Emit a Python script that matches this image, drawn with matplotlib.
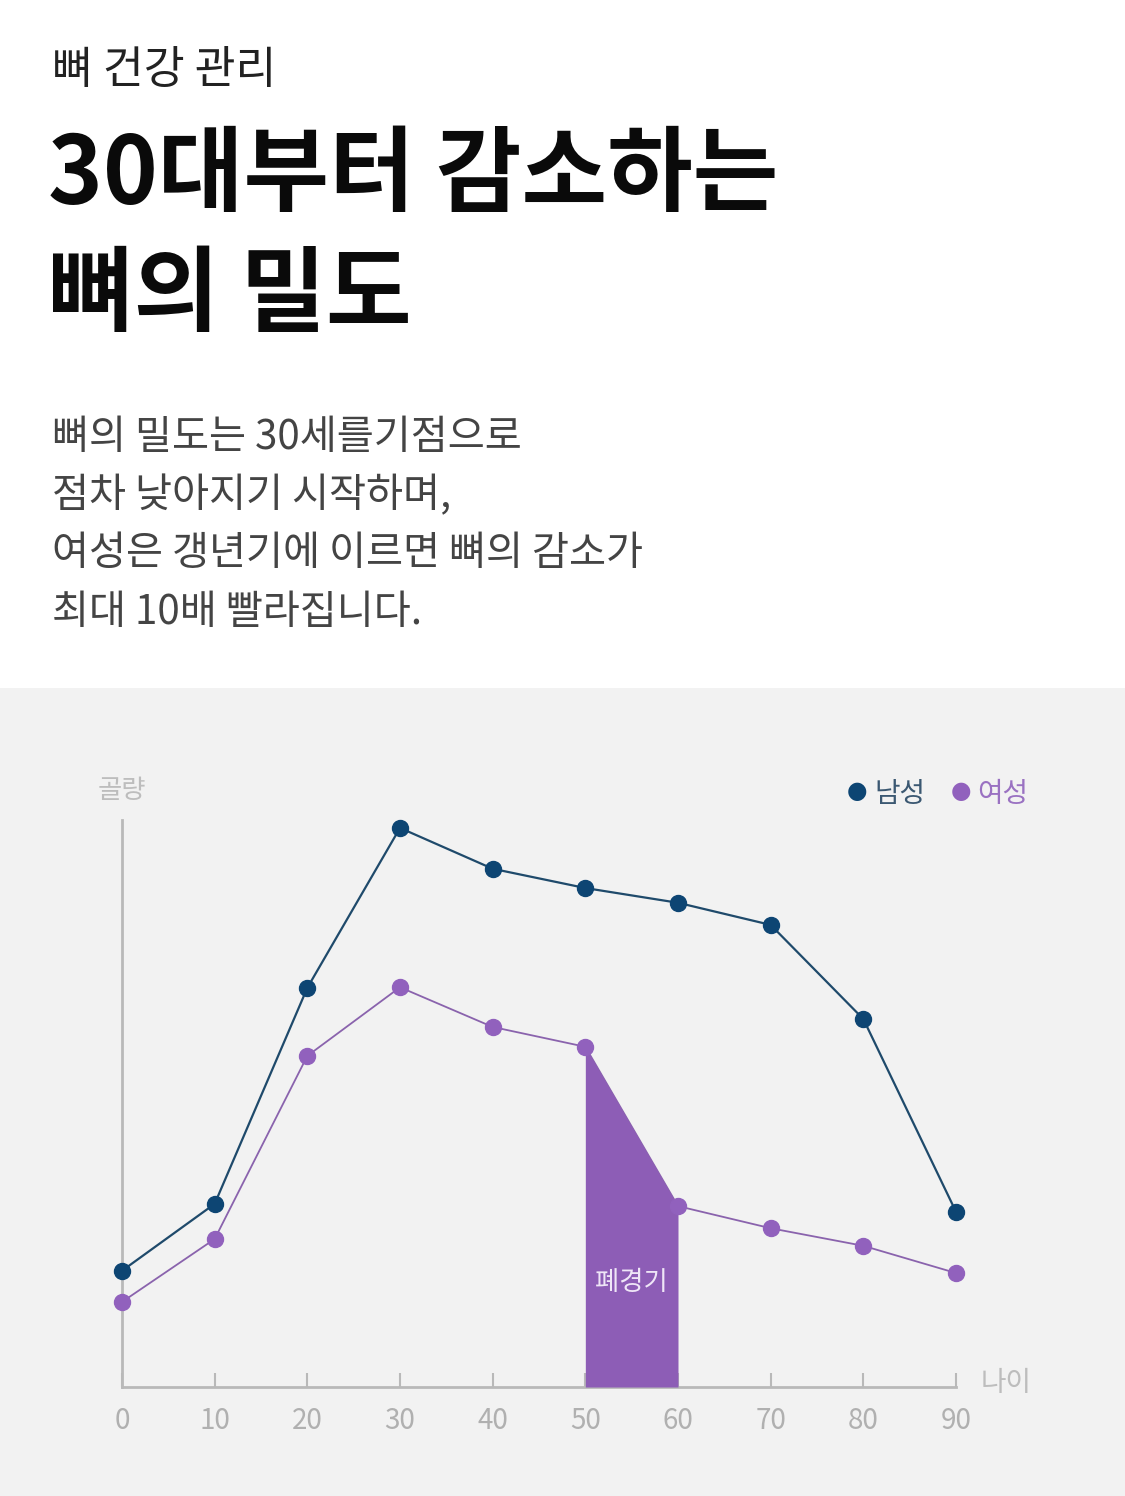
# bone density chart (Korean infographic)

import numpy as np
import matplotlib.pyplot as plt
from matplotlib.patches import Rectangle

plt.rcParams['font.family'] = ['Noto Sans CJK KR', 'DejaVu Sans']

# data
ages = [0, 10, 20, 30, 40, 50, 60, 70, 80, 90]
men = [20.5, 32.3, 70.4, 98.6, 91.4, 88.0, 85.4, 81.5, 64.9, 30.9]
women = [15.0, 26.1, 58.4, 70.5, 63.5, 60.0, 31.9, 28.0, 24.9, 20.1]
menopause = (50, 60)

kicker = "뼈 건강 관리"
title_lines = ["30대부터 감소하는", "뼈의 밀도"]
body_lines = ["뼈의 밀도는 30세를기점으로",
              "점차 낮아지기 시작하며,",
              "여성은 갱년기에 이르면 뼈의 감소가",
              "최대 10배 빨라집니다."]

navy = '#0d4573'
navy_line = '#1f4a6b'
purple = '#9161bd'
purple_line = '#8a63ad'
fill_col = '#8d5db6'
grey_axis = '#b9b9b9'
grey_text = '#b0b0b0'

W, H = 1125, 1496
fig = plt.figure(figsize=(W / 100, H / 100), dpi=100)
fig.patch.set_facecolor('white')

def fx(px):
    return px / W

def fy(py):
    return 1 - py / H

# grey panel behind the chart
fig.patches.append(Rectangle((0, 0), 1, fy(688), transform=fig.transFigure,
                             facecolor='#f2f2f2', edgecolor='none', zorder=-10))

# header text
fig.text(fx(52), fy(70), kicker, fontsize=32, color='#222222', va='center', ha='left')
fig.text(fx(48), fy(176), title_lines[0], fontsize=67, fontweight='heavy',
         color='#0a0a0a', va='center', ha='left')
fig.text(fx(48), fy(296), title_lines[1], fontsize=67, fontweight='heavy',
         color='#0a0a0a', va='center', ha='left')
for i, line in enumerate(body_lines):
    fig.text(fx(52), fy(438 + i * 58), line, fontsize=29, color='#444444',
             fontweight='light', va='center', ha='left')

# chart axes
ax = fig.add_axes([fx(122), fy(1387), fx(956) - fx(122), fy(820) - fy(1387)])
ax.set_facecolor('none')
ax.set_xlim(0, 90)
ax.set_ylim(0, 100)

ax.plot(ages, men, color=navy_line, lw=1.6, zorder=3, clip_on=False)
ax.plot(ages, men, 'o', color=navy, ms=11.5, zorder=6, clip_on=False)
ax.plot(ages, women, color=purple_line, lw=1.3, zorder=3, clip_on=False)
ax.plot(ages, women, 'o', color=purple, ms=11.5, zorder=6, clip_on=False)

# menopause band under the women's curve
xs = np.array(ages)
mask = (xs >= menopause[0]) & (xs <= menopause[1])
ax.fill_between(xs[mask], 0, np.array(women)[mask], color=fill_col, lw=0, zorder=5)
ax.text(sum(menopause) / 2, 18.5, "폐경기", color='#efe6f7', fontsize=19,
        ha='center', va='center', zorder=7)

for s in ['top', 'right']:
    ax.spines[s].set_visible(False)
for s in ['left', 'bottom']:
    ax.spines[s].set_color(grey_axis)
    ax.spines[s].set_linewidth(2)
ax.set_yticks([])
ax.set_xticks(ages)
ax.set_xticklabels([str(a) for a in ages])
ax.tick_params(axis='x', direction='in', length=10, width=1.5, color=grey_axis,
               labelcolor=grey_text, labelsize=20, pad=14)
for lab in ax.get_xticklabels():
    lab.set_fontweight('light')

# axis titles
fig.text(fx(122), fy(791), "골량", fontsize=19, color='#bdbdbd', ha='center', va='center')
fig.text(fx(1006), fy(1383), "나이", fontsize=20, color='#bdbdbd', ha='center',
         va='center', fontweight='light')

# legend
fig.text(fx(857), fy(791), "●", fontsize=17, color=navy, ha='center', va='center',
         family=['DejaVu Sans'])
fig.text(fx(874), fy(794), "남성", fontsize=20, color='#3b5872', ha='left', va='center')
fig.text(fx(961), fy(791), "●", fontsize=17, color=purple, ha='center', va='center',
         family=['DejaVu Sans'])
fig.text(fx(977), fy(794), "여성", fontsize=20, color='#9a72c2', ha='left', va='center')

plt.savefig('out.png', dpi=100)
